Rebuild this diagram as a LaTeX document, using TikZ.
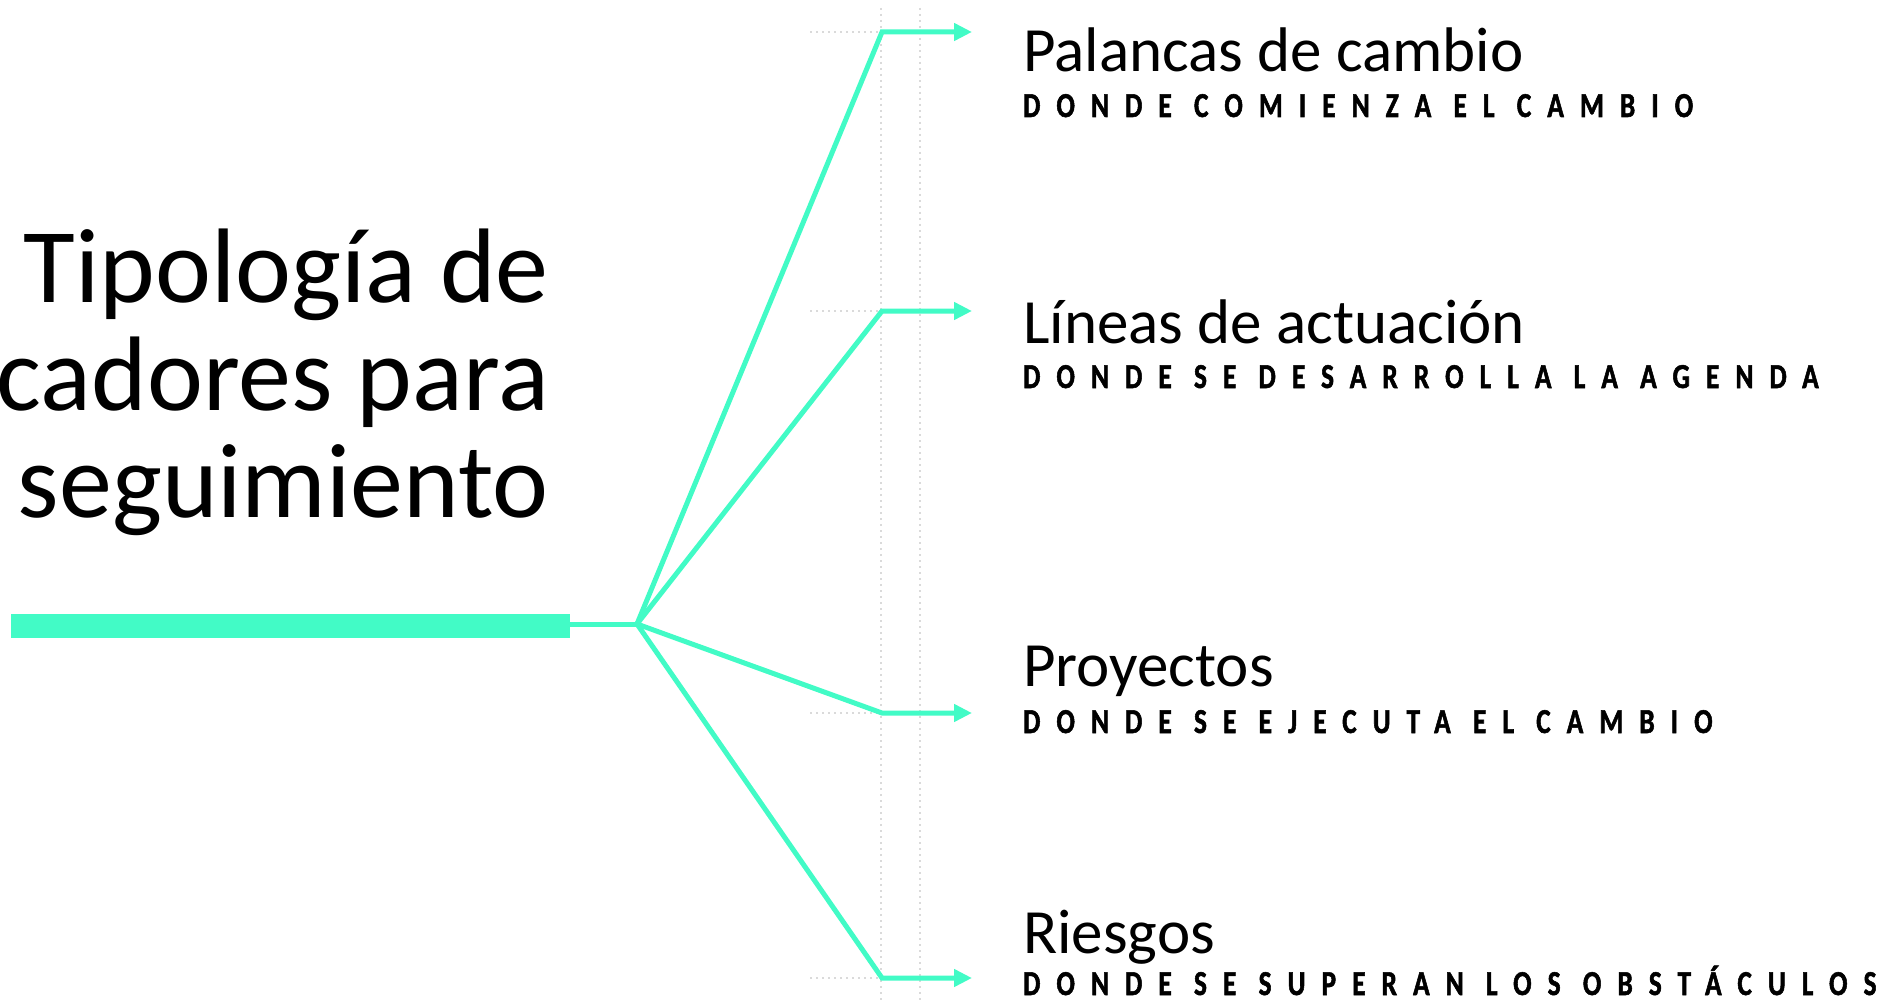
\documentclass[tikz,border=0pt]{standalone}
\usepackage{fontspec}
\setmainfont{Carlito}
\newfontfamily\trackfont{Carlito}[UprightFont={* Bold},LetterSpace=46,FakeStretch=0.78,FakeBold=1.5]
\usetikzlibrary{arrows.meta}
\definecolor{mint}{HTML}{42FBC6}
\definecolor{guide}{HTML}{DADADA}
\tikzset{
  branch/.style={draw=mint,line width=5pt,line join=miter},
  guideline/.style={draw=guide,line width=2pt,dash pattern=on 2pt off 4pt},
  titleline/.style={font=\fontsize{106}{107}\selectfont,anchor=base east,inner sep=0pt},
  head/.style={font=\fontsize{63}{63}\selectfont,anchor=base west,inner sep=0pt},
  tag/.style={font=\trackfont\fontsize{35}{35}\selectfont,anchor=base west,inner sep=0pt},
}
\begin{document}
\begin{tikzpicture}[x=1pt,y=-1pt]
\useasboundingbox (0,0) rectangle (1877,1003);
% guides
\draw[guideline] (881,8) -- (881,1003);
\draw[guideline] (920,8) -- (920,1003);
% title
\foreach \line/\y [count=\n] in {Tipología de/302,cadores para/410,seguimiento/517}{
  \node[titleline] (title\n) at (549,\y) {\line};
}
% stem and branches
\fill[mint] (11,614) rectangle (570,638);
\coordinate (stem) at (570,624);
\coordinate (hub) at (637,624);
\draw[branch] (stem) -- (hub);
\foreach \n/\y in {1/32,2/311,3/713,4/978}{
  \coordinate (bend\n) at (882,\y);
  \coordinate (tip\n) at (972,\y);
  \draw[guideline] (810,\y) -- (bend\n);
  \draw[branch,-{Triangle[length=18pt,width=17pt]}] (hub) -- (bend\n) -- (tip\n);
}
% labels
\foreach \n/\y/\yy/\head/\tag in {1/72/117/Palancas de cambio/DONDE COMIENZA EL CAMBIO,
  2/343/388/Líneas de actuación/DONDE SE DESARROLLA LA AGENDA,
  3/686/733/Proyectos/DONDE SE EJECUTA EL CAMBIO,
  4/953/995/Riesgos/DONDE SE SUPERAN LOS OBSTÁCULOS}{
  \node[head] (head\n) at (1023,\y) {\head};
  \node[tag] (tag\n) at (1023,\yy) {\tag};
}
\end{tikzpicture}
\end{document}
